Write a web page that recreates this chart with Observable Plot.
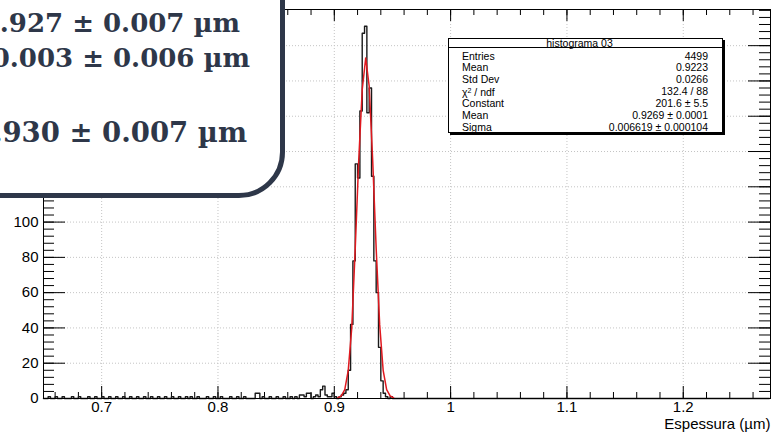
<!DOCTYPE html>
<html><head><meta charset="utf-8">
<script src="https://cdn.jsdelivr.net/npm/d3@7"></script>
<script src="https://cdn.jsdelivr.net/npm/@observablehq/plot@0.6"></script>
<style>
html,body{margin:0;padding:0;background:#fff;overflow:hidden;}
#wrap{position:relative;width:774px;height:435px;overflow:hidden;background:#fff;}
#chart{position:absolute;left:0;top:0;}
#stats{position:absolute;left:448px;top:38px;width:275px;height:95px;box-sizing:border-box;border:1px solid #000;box-shadow:2px 2px 0 #000;background:#fff;font-family:"Liberation Sans",Arial,sans-serif;font-size:10.5px;color:#000;}
#stats .title{position:absolute;left:0;top:0;width:100%;height:9px;border-bottom:1px solid #000;text-align:center;line-height:9px;padding-right:12px;box-sizing:border-box;}
#stats .lab{position:absolute;left:13px;line-height:12px;white-space:nowrap;}
#stats .val{position:absolute;right:14px;line-height:12px;white-space:nowrap;text-align:right;}
#card{position:absolute;left:-60px;top:-60px;width:345px;height:258px;box-sizing:border-box;border:5px solid #2e3749;border-radius:46px;background:#fff;}
.ln{position:absolute;white-space:nowrap;font-family:"DejaVu Serif",serif;font-weight:bold;line-height:26px;color:#2e3749;}
</style>
</head><body>
<div id="wrap"><div id="chart"></div><div id="stats"></div><div id="card"></div></div>
<script>
// ---- data ----
const binWidth = 0.002;
const binStart = [0.654,0.660,0.666,0.674,0.680,0.688,0.694,0.700,0.706,0.712,0.718,0.724,0.730,0.736,0.742,0.748,0.754,0.760,0.766,0.772,0.776,0.782,0.790,0.796,0.802,0.810,0.816,0.822,
  0.832,0.834,0.838,0.844,0.850,0.856,0.862,0.866,0.870,0.872,0.874,0.876,0.878,0.882,0.884,0.886,0.888,0.890,0.892,0.894,0.896,0.898,
  0.900,0.904,0.906,0.908,0.910,0.912,0.914,0.916,0.918,0.920,0.922,0.924,0.926,0.928,0.930,0.932,0.934,0.936,0.938,0.940,0.942,0.944,0.948];
const binCount = [1,1,1,1,1,1,1,1,1,1,1,1,1,1,1,1,1,1,1,1,1,1,1,1,1,1,1,1,
  3,3,1,1,1,1,1,1,2,2,1,3,3,1,2,1,5,7,2,1,1,3,
  1,1,2,3,5,16,42,78,133,125,163,207,211,162,176,126,78,60,29,10,3,1,1];
const fitX = [0.903,0.906,0.909,0.912,0.915,0.918,0.921,0.924,0.927,0.930,0.933,0.936,0.939,0.942,0.945,0.948,0.951];
const fitY = [0.3,1.5,5,16,40,85,135,175,193,177,135,85,42,16,5,1.5,0.3];
const xMajor = [0.7,0.8,0.9,1.0,1.1,1.2];
const xTickLabels = ["0.7","0.8","0.9","1","1.1","1.2"];
const yMajor = [0,20,40,60,80,100,120,140,160,180,200];
const yLabelled = [0,20,40,60,80,100];
const yTickLabels = ["0","20","40","60","80","100"];
const xTitle = "Espessura (µm)";
const statsTitle = "histograma 03";
const statLabels = ["Entries","Mean","Std Dev","χ<sup style='font-size:7px;vertical-align:3px'>2</sup> / ndf","Constant","Mean","Sigma"];
const statValues = ["4499","0.9223","0.0266","132.4 / 88","201.6 ± 5.5","0.9269 ± 0.0001","0.006619 ± 0.000104"];
const cardLines = ["0.927 ± 0.007 µm","0.003 ± 0.006 µm","0.930 ± 0.007 µm"];

// ---- chart ----
const W = 774, H = 435, mt = 9, mb = 37, ml = 43, mr = 4;
const ph = H - mt - mb, pw = W - ml - mr;
const xMinor = d3.range(33, 64).map(i => i * 0.02);
const yMinor = d3.range(1, 56).map(i => i * 4);
const countMap = new Map(binStart.map((x, i) => [Math.round(x / binWidth), binCount[i]]));
const bins = [];
for (let k = Math.round(0.65 / binWidth); k <= Math.round(1.274 / binWidth); k++) bins.push({x: k * binWidth, y: countMap.get(k) || 0});
const fit = fitX.map((x, i) => ({x, y: fitY[i]}));
const grid = {stroke: "#c4c4c4", strokeOpacity: 1, strokeDasharray: "1,2", strokeWidth: 1};

const chart = Plot.plot({
  width: W, height: H, marginTop: mt, marginBottom: mb, marginLeft: ml, marginRight: mr,
  x: {domain: [0.65, 1.275]}, y: {domain: [0, 220.5]},
  style: {fontFamily: "'Liberation Sans', Arial, sans-serif", fontSize: "15px", color: "#000", background: "#fff"},
  marks: [
    Plot.gridX(xMajor, grid),
    Plot.gridY(yMajor.slice(1), grid),
    Plot.ruleX(xMinor, {insetTop: ph - 6, stroke: "#000"}),
    Plot.ruleX(xMajor, {insetTop: ph - 12, stroke: "#000"}),
    Plot.ruleX(xMinor, {insetBottom: ph - 6, stroke: "#000"}),
    Plot.ruleX(xMajor, {insetBottom: ph - 12, stroke: "#000"}),
    Plot.ruleY(yMinor, {insetRight: pw - 11, stroke: "#000"}),
    Plot.ruleY(yMajor, {insetRight: pw - 22, stroke: "#000"}),
    Plot.ruleY(yMinor, {insetLeft: pw - 11, stroke: "#000"}),
    Plot.ruleY(yMajor, {insetLeft: pw - 22, stroke: "#000"}),
    Plot.line(bins, {x: "x", y: "y", curve: "step-after", stroke: "#1a1a1a", strokeWidth: 1.4}),
    Plot.line(fit, {x: "x", y: "y", stroke: "#e0191f", strokeWidth: 1.5}),
    Plot.frame({stroke: "#000"}),
    Plot.axisX(xMajor, {tickSize: 0, tickPadding: 3, tickFormat: d => xTickLabels[xMajor.indexOf(d)], label: null}),
    Plot.axisY(yLabelled, {tickSize: 0, tickPadding: 5, tickFormat: d => yTickLabels[yLabelled.indexOf(d)], label: null}),
    Plot.text([xTitle], {frameAnchor: "bottom-right", dy: 30, textAnchor: "end", fontSize: 15})
  ]
});
document.getElementById("chart").appendChild(chart);

// ---- stats box ----
const st = document.getElementById("stats");
let html = `<div class="title">${statsTitle}</div>`;
statLabels.forEach((l, i) => {
  const top = 10.5 + i * 11.9;
  html += `<div class="lab" style="top:${top}px">${l}</div><div class="val" style="top:${top}px">${statValues[i]}</div>`;
});
st.innerHTML = html;

// ---- card ----
const wrap = document.getElementById("wrap");
const pos = [{right: 240, top: 10, size: 26}, {right: 250, top: 45, size: 26}, {right: 247, top: 119, size: 27.5}];
cardLines.forEach((t, i) => {
  const d = document.createElement("div");
  d.className = "ln";
  d.textContent = t;
  d.style.fontSize = pos[i].size + "px";
  d.style.right = (W - pos[i].right) + "px";
  d.style.top = pos[i].top + "px";
  wrap.appendChild(d);
});
</script>
</body></html>
